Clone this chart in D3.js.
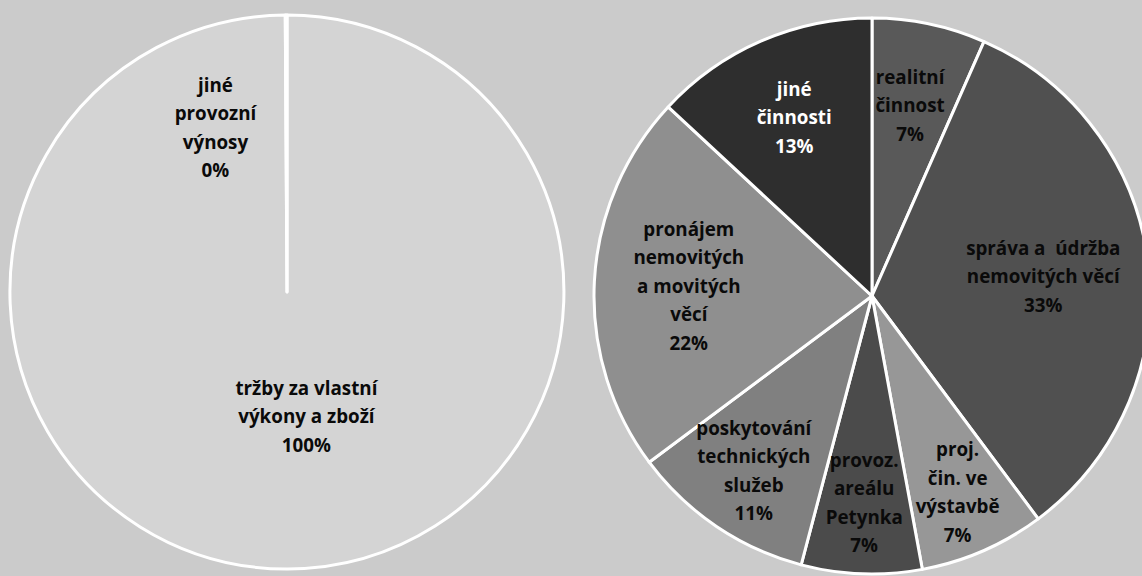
<!DOCTYPE html>
<html lang="cs">
<head>
<meta charset="utf-8">
<script src="https://cdn.jsdelivr.net/npm/d3@7"></script>
<style>
  html, body { margin: 0; padding: 0; background: #cbcbcb; }
  svg { display: block; }
  text { font-family: "Open Sans", Lato, sans-serif; font-weight: 700; }
</style>
</head>
<body>
<svg id="chart" width="1142" height="576"></svg>
<script>
// Struktura výnosů (levý koláč)
const incomeCategories = [
  ["tržby za vlastní", "výkony a zboží"],
  ["jiné", "provozní", "výnosy"]
];
const incomeValues = [99.9, 0.1];

// Tržby podle činností (pravý koláč)
const activityCategories = [
  ["realitní", "činnost"],
  ["správa a  údržba", "nemovitých věcí"],
  ["proj.", "čin. ve", "výstavbě"],
  ["provoz.", "areálu", "Petynka"],
  ["poskytování", "technických", "služeb"],
  ["pronájem", "nemovitých", "a movitých", "věcí"],
  ["jiné", "činnosti"]
];
const activityValues = [6.6, 33.2, 7.3, 7.0, 10.7, 22.1, 13.1];

// Barvy výsečí a popisků
const incomeColors = ["#d4d4d4", "#d4d4d4"];
const activityColors = ["#595959", "#505050", "#979797", "#4b4b4b", "#808080", "#8f8f8f", "#2e2e2e"];
const activityLabelColors = ["#0a0a0a", "#0a0a0a", "#0a0a0a", "#0a0a0a", "#0a0a0a", "#0a0a0a", "#fff"];

// Umístění popisků: podíl poloměru a doladění
const incomeLabelLayout = [
  { r: 0.45, dx: 19, dy: 0 },
  { r: 0.64, dx: -71, dy: 13 }
];
const activityLabelLayout = [
  { r: 0.70, dx: -2, dy: 0 },
  { r: 0.62, dx: 0, dy: 0 },
  { r: 0.77, dx: 0, dy: 0 },
  { r: 0.745, dx: 0, dy: 0 },
  { r: 0.76, dx: 0, dy: 0 },
  { r: 0.66, dx: 0, dy: 0 },
  { r: 0.70, dx: 0, dy: 0 }
];

const svg = d3.select("#chart");
const lineHeight = 28.5;

function drawPie(cfg) {
  const g = svg.append("g").attr("transform", `translate(${cfg.cx},${cfg.cy})`);
  const pie = d3.pie().sort(null).value(d => d)
    .startAngle(0).endAngle(2 * Math.PI);
  const arcs = pie(cfg.values);
  const arc = d3.arc().innerRadius(0).outerRadius(cfg.r);

  g.selectAll("path.slice")
    .data(arcs)
    .join("path")
    .attr("class", "slice")
    .attr("d", arc)
    .attr("fill", (d, i) => cfg.colors[i])
    .attr("stroke", "#fff")
    .attr("stroke-width", 3)
    .attr("stroke-linejoin", "round");

  g.selectAll("text.label")
    .data(arcs)
    .join("text")
    .attr("class", "label")
    .attr("text-anchor", "middle")
    .attr("font-size", 18.8)
    .attr("fill", (d, i) => cfg.labelColors[i])
    .each(function (d, i) {
      const lay = cfg.layout[i];
      const mid = (d.startAngle + d.endAngle) / 2;
      const rr = cfg.r * lay.r;
      const x = Math.sin(mid) * rr + lay.dx;
      const y = -Math.cos(mid) * rr + lay.dy;
      const lines = cfg.categories[i].concat([Math.round(d.data) + "%"]);
      const top = y - (lines.length - 1) * lineHeight / 2;
      const t = d3.select(this);
      lines.forEach((ln, k) => {
        t.append("tspan")
          .attr("x", x)
          .attr("y", top + k * lineHeight)
          .attr("dy", "0.35em")
          .attr("xml:space", "preserve")
          .text(ln);
      });
    });
}

drawPie({
  cx: 287, cy: 292, r: 277,
  values: incomeValues,
  categories: incomeCategories,
  colors: incomeColors,
  labelColors: ["#0a0a0a", "#0a0a0a"],
  layout: incomeLabelLayout
});

drawPie({
  cx: 872, cy: 296, r: 278,
  values: activityValues,
  categories: activityCategories,
  colors: activityColors,
  labelColors: activityLabelColors,
  layout: activityLabelLayout
});
</script>
</body>
</html>
